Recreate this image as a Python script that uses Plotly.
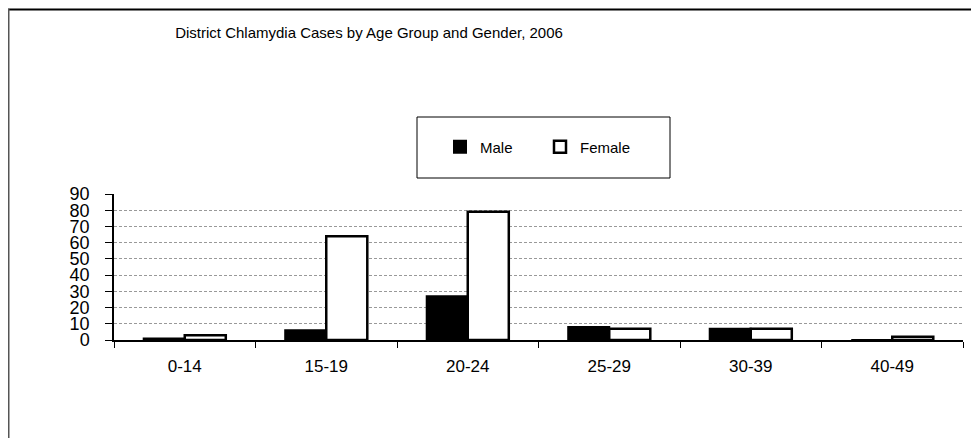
import plotly.graph_objects as go

categories = ["0-14", "15-19", "20-24", "25-29", "30-39", "40-49"]
male = [1, 6, 27, 8, 7, 0]
female = [3, 64, 79, 7, 7, 2]
y_ticks = [0, 10, 20, 30, 40, 50, 60, 70, 80, 90]

# page body margin of 8px offsets the figure; work in screen pixels
OFF = 8
W, H = 979 - OFF, 438 - OFF
L, R, T, B = 114 - OFF, 979 - 963, 194 - OFF, 438 - 340
pw, ph = W - L - R, H - T - B

def px(x):
    return (x - OFF - L) / pw

def py(y):
    return (H - B - (y - OFF)) / ph

font = "Liberation Sans, Arial, sans-serif"

fig = go.Figure()
fig.add_trace(go.Bar(x=categories, y=male, name="Male",
                     marker=dict(color="black", line=dict(color="black", width=2))))
fig.add_trace(go.Bar(x=categories, y=female, name="Female",
                     marker=dict(color="white", line=dict(color="black", width=2.5))))

fig.update_layout(
    width=W, height=H,
    margin=dict(l=L, r=R, t=T, b=B),
    paper_bgcolor="white", plot_bgcolor="white",
    barmode="group", bargap=0.42, bargroupgap=0,
    title=dict(text="District Chlamydia Cases by Age Group and Gender, 2006",
               x=(369 - OFF) / W, xanchor="center", xref="container",
               y=1 - (33 - OFF) / H, yanchor="middle", yref="container",
               font=dict(family=font, size=15, color="black")),
    showlegend=True,
    legend=dict(orientation="h", x=px(540), xanchor="center",
                y=py(147), yanchor="middle",
                font=dict(family=font, size=15, color="black"),
                bgcolor="rgba(0,0,0,0)", borderwidth=0, itemwidth=30,
                entrywidth=55, entrywidthmode="pixels",
                traceorder="normal"),
    font=dict(family=font, color="black"),
)

fig.update_xaxes(type="category", showline=True, linecolor="black", linewidth=1.5,
                 ticks="outside", tickson="boundaries", ticklen=6, tickcolor="black",
                 tickwidth=1, showgrid=False, ticklabelstandoff=10,
                 tickfont=dict(family=font, size=17, color="black"))
fig.update_yaxes(range=[0, 90], tickvals=y_ticks, showline=True, linecolor="black",
                 linewidth=1.5, ticks="outside", ticklen=7, tickcolor="black",
                 showgrid=True, gridcolor="#999999", griddash="3px,2px", gridwidth=1,
                 zeroline=False, ticklabelstandoff=12,
                 tickfont=dict(family=font, size=18, color="black"))

# legend frame
fig.add_shape(type="rect", xref="paper", yref="paper",
              x0=px(417), x1=px(670), y0=py(178), y1=py(117),
              line=dict(color="black", width=1), layer="below")
# outer chart frame (top and left edges visible)
fig.add_shape(type="line", xref="paper", yref="paper",
              x0=px(8), x1=px(979), y0=py(9.5), y1=py(9.5),
              line=dict(color="black", width=2))
fig.add_shape(type="line", xref="paper", yref="paper",
              x0=px(8.5), x1=px(8.5), y0=py(9), y1=py(438),
              line=dict(color="#555555", width=2))

fig.write_html("out.html")
